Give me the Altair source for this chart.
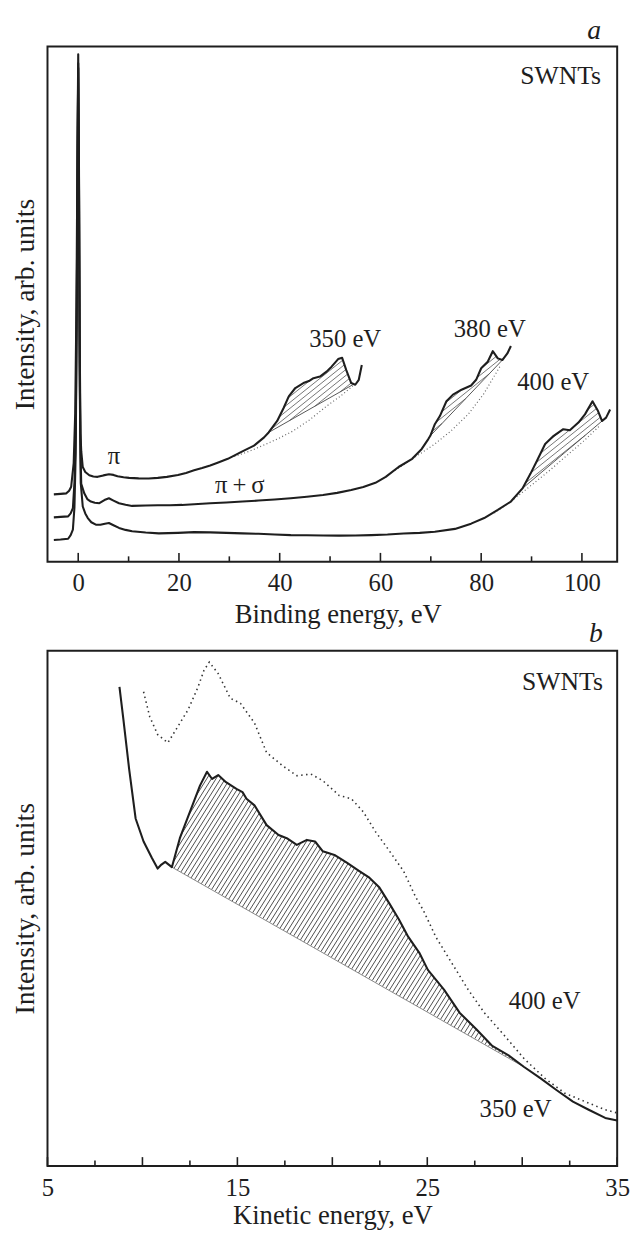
import altair as alt
import numpy as np
import pandas as pd

FONT = "Liberation Serif"
INK = "#1e1e1e"
W, H = 577, 522

# ---------------- panel a : binding energy, eV ----------------
A_XDOM = [-6.1, 107.0]
a_labels = [0, 20, 40, 60, 80, 100]
a_minor = [10, 30, 50, 70, 90]

# spectra (x = binding energy eV, y = intensity arb. units)
a_350 = [(-4.84, 68.3), (-3.5, 68.8), (-2.35, 69.3), (-1.8, 72), (-1.4, 76), (-0.9, 100), (-0.6, 150),
         (-0.35, 260), (-0.15, 420), (0.0, 514), (0.15, 400), (0.3, 220), (0.45, 130), (0.6, 112),
         (0.9, 96), (1.4, 91), (2.2, 87.6), (3.0, 86.3), (3.85, 86), (5.0, 87.5), (6.1, 88.6), (7.0, 88),
         (7.8, 86.6), (9.0, 85.6), (10.1, 85), (12.0, 84.5), (14.0, 84.3), (15.8, 85), (17.6, 86),
         (19.8, 87.8), (21.4, 90), (23.0, 92.6), (24.6, 95), (26.2, 97.6), (27.8, 100.6), (29.7, 104.3),
         (32.3, 111), (34.9, 117.6), (36.9, 126), (37.8, 131), (39.5, 142.6), (40.8, 156), (41.8, 167.6),
         (43.1, 176), (44.7, 181), (45.8, 183), (46.7, 186), (48.0, 187.6), (49.3, 192.6), (50.3, 197.6),
         (51.6, 205.3), (52.4, 206.6), (53.2, 194.3), (54.2, 181), (55.0, 179.3), (55.7, 184.3), (56.3, 199.3)]
a_380 = [(-4.84, 45), (-3.5, 45.5), (-2.0, 46), (-1.5, 49), (-1.06, 54.3), (-0.75, 80), (-0.5, 130),
         (-0.3, 250), (-0.12, 420), (0.0, 505), (0.15, 390), (0.3, 200), (0.45, 110), (0.6, 79),
         (1.2, 69.3), (1.8, 63.5), (2.5, 61), (3.3, 59.8), (4.2, 59.3), (5.2, 62.5), (6.1, 64.3), (7.0, 62),
         (8.1, 59.3), (9.4, 57.8), (10.7, 56.6), (13.4, 57), (15.8, 57.2), (18.2, 57.3), (20.6, 57.6),
         (23.0, 58.3), (26.2, 59.2), (29.4, 60), (32.6, 61), (35.8, 62), (39.0, 63), (42.2, 64.3),
         (45.4, 65.8), (48.6, 67.6), (51.4, 69.8), (54.2, 72.6), (56.6, 75.8), (59.0, 80), (61.05, 86),
         (63.6, 96), (66.3, 104.3), (68.2, 114.3), (69.5, 124.3), (69.9, 127.6), (70.8, 139.3),
         (71.8, 147.6), (73.1, 162.6), (74.4, 169.3), (76.1, 174.3), (78.0, 178.6), (79.0, 184.3),
         (80.0, 196), (81.3, 202.6), (82.3, 213.3), (83.3, 206), (84.2, 204.3), (85.2, 211), (85.9, 218.6)]
a_400 = [(-4.84, 22), (-3.5, 22.5), (-2.0, 23.3), (-1.5, 27), (-1.06, 32.6), (-0.75, 55), (-0.5, 110),
         (-0.3, 240), (-0.12, 410), (0.0, 500), (0.15, 380), (0.3, 180), (0.5, 80), (0.9, 56), (1.4, 49),
         (1.9, 44.3), (2.6, 40), (3.5, 37.6), (4.4, 37.5), (5.3, 38.6), (6.1, 39.3), (7.0, 37), (8.1, 34.3),
         (9.4, 32.3), (10.7, 31), (13.4, 29.6), (16.0, 28.8), (19.8, 29.3), (23.0, 30), (26.2, 29.8),
         (29.4, 29.3), (32.6, 28.8), (35.8, 28.3), (39.0, 27.6), (42.2, 27), (45.4, 26.8), (48.6, 26.6),
         (51.8, 26.5), (55.0, 26.6), (58.2, 27), (61.4, 27.6), (64.6, 28.6), (67.8, 29.3), (70.8, 30.5),
         (74.8, 33.3), (78.0, 38.6), (80.6, 44.3), (83.3, 52.6), (85.9, 61), (88.2, 74.3), (89.8, 89.3),
         (91.1, 102.6), (92.7, 119.3), (94.4, 127.6), (96.3, 134.3), (97.6, 133.3), (99.3, 141),
         (100.6, 149.3), (102.1, 162.6), (103.2, 152.6), (104.0, 142.6), (104.8, 146), (105.6, 154.3)]
# straight backgrounds under the plasmon features
a_350_base = [(37.8, 131), (54.5, 179.3)]
a_380_base = [(69.9, 127.6), (84.2, 204.3)]
a_400_base = [(88.2, 74.3), (104.0, 142.6)]
# dotted extrapolated backgrounds
a_350_dot = [(31, 106.6), (34, 112), (37, 118.5), (40, 125.5), (42.7, 132.6), (46, 144), (49.3, 157.6),
             (52, 167.5), (54.5, 178)]
a_380_dot = [(62.9, 92.6), (66, 103), (70.8, 119.3), (74, 132.5), (77.4, 149.3), (80.5, 170), (83.9, 199.3)]
a_400_dot = [(82.6, 49.3), (86.5, 63.5), (90.4, 79.3), (93.7, 93), (97.0, 107.6), (100.3, 122), (103.5, 137.6)]

# ---------------- panel b : kinetic energy, eV ----------------
B_XDOM = [5.0, 35.0]
b_labels = [5, 15, 25, 35]
b_major = [10, 20, 30]
b_minor = [7.5, 12.5, 17.5, 22.5, 27.5, 32.5]

b_350 = [(8.79, 485.3), (9.0, 452), (9.3, 402), (9.64, 352), (10.06, 328.7), (10.5, 312), (10.8, 301.3),
         (11.0, 305.3), (11.2, 308), (11.55, 302.7), (11.97, 332), (12.5, 358.7), (13.03, 385.3),
         (13.4, 399.3), (13.67, 392), (13.99, 396), (14.4, 388.7), (14.95, 382), (15.27, 378.7),
         (15.48, 372), (15.9, 365.3), (16.54, 345.3), (17.17, 335.3), (17.6, 332), (18.13, 325.3),
         (18.66, 330.3), (19.09, 328.7), (19.5, 318.7), (20.15, 314.7), (20.78, 307), (21.42, 298.7),
         (21.95, 292), (22.48, 282), (23.0, 266), (23.5, 250), (24.0, 232), (24.6, 215.3), (25.03, 198.7),
         (25.88, 178.7), (26.7, 155.3), (27.57, 138.7), (28.4, 122), (29.28, 112), (30.1, 100.3),
         (30.97, 88.7), (31.8, 77), (32.67, 65.3), (33.5, 57), (34.37, 48.7), (35.0, 46)]
b_400 = [(10.06, 480.3), (10.38, 455.3), (10.8, 437), (11.34, 428.7), (11.87, 445.3), (12.4, 462),
         (12.93, 485.3), (13.24, 502), (13.52, 510.3), (13.99, 498.7), (14.63, 473.7), (15.16, 468.7),
         (15.9, 448.7), (16.54, 418.7), (17.39, 405.3), (18.13, 395.3), (18.87, 397), (19.5, 390.3),
         (20.36, 375.3), (21.0, 372), (21.63, 358.7), (22.27, 338.7), (22.9, 322), (23.75, 298.7),
         (24.4, 272), (24.8, 258.7), (25.45, 232), (26.3, 205.3), (27.15, 178.7), (28.0, 155.3),
         (29.07, 132), (30.1, 108.7), (31.2, 88.7), (32.25, 73.7), (33.3, 65.3), (34.37, 57), (35.0, 53.7)]
b_350_base = [(11.55, 302.7), (30.1, 100.3)]


def frame(pairs, series):
    return pd.DataFrame({"x": [p[0] for p in pairs], "y": [p[1] for p in pairs],
                         "i": list(range(len(pairs))), "s": series})


def hatch(curve, base, xdom, slope, gap, step=0.2):
    """Diagonal hatch segments filling the area between a curve and its straight background."""
    kx = W / (xdom[1] - xdom[0])
    cx = (np.array([p[0] for p in curve]) - xdom[0]) * kx
    cy = np.array([p[1] for p in curve], float)
    (bx0, by0), (bx1, by1) = base
    X0, X1 = (bx0 - xdom[0]) * kx, (bx1 - xdom[0]) * kx
    xs = np.arange(X0, X1 + step / 2, step)
    U = np.interp(xs, cx, cy)
    L = by0 + (by1 - by0) * (xs - X0) / (X1 - X0)
    cmin, cmax = (L - slope * xs).min(), (U - slope * xs).max()
    rows = []
    for c in np.arange(cmin + gap * 0.5, cmax, gap):
        v = slope * xs + c
        inside = (v >= L - 0.01) & (v <= U)
        edges = np.flatnonzero(np.diff(np.r_[0, inside.astype(int), 0]))
        for s, e in zip(edges[::2], edges[1::2]):
            if e - s < 3:
                continue
            xa, xb = xs[s], xs[e - 1]
            rows.append({"x": xa / kx + xdom[0], "y": slope * xa + c,
                         "x2": xb / kx + xdom[0], "y2": slope * xb + c})
    return pd.DataFrame(rows)


y_scale = alt.Scale(domain=[0, H], nice=False, zero=False)
axis_y = alt.Axis(title="Intensity, arb. units", labels=False, ticks=False, domain=False, grid=False,
                  titleFont=FONT, titleFontSize=28, titleFontWeight="normal", titleColor=INK, titlePadding=8)


def make_axis_x(values, title, lab_pad, title_pad, title_x=None):
    kw = dict(values=values, title=title, ticks=False, tickSize=0, domain=False, grid=False,
              labelFont=FONT, labelFontSize=25, labelColor=INK, labelPadding=lab_pad,
              labelFlush=False, labelOverlap=False, titleFont=FONT, titleFontSize=27,
              titleFontWeight="normal", titleColor=INK, titlePadding=title_pad)
    if title_x is not None:
        kw["titleX"] = title_x
    return alt.Axis(**kw)


def panel(xdom, axis_x, solid, bases, dots, hatches, majors, minors, texts, dot_style, base_color, hatch_color):
    xs = alt.Scale(domain=xdom, nice=False, zero=False)
    X = lambda f: alt.X(f"{f}:Q", scale=xs, axis=axis_x)
    Y = lambda f: alt.Y(f"{f}:Q", scale=y_scale, axis=axis_y)
    layers = []
    for df in hatches:
        layers.append(alt.Chart(df).mark_rule(color=hatch_color, strokeWidth=0.9).encode(
            x=X("x"), y=Y("y"), x2="x2:Q", y2="y2:Q"))
    if bases is not None:
        layers.append(alt.Chart(bases).mark_line(color=base_color, strokeWidth=1).encode(
            x=X("x"), y=Y("y"), detail="s:N", order="i:Q"))
    layers.append(alt.Chart(dots).mark_line(**dot_style).encode(
        x=X("x"), y=Y("y"), detail="s:N", order="i:Q"))
    layers.append(alt.Chart(solid).mark_line(color=INK, strokeWidth=2.1, strokeJoin="round").encode(
        x=X("x"), y=Y("y"), detail="s:N", order="i:Q"))
    for vals, ln in ((majors, 9), (minors, 5.5)):
        layers.append(alt.Chart(pd.DataFrame({"t": vals})).mark_rule(color=INK, strokeWidth=1.6).encode(
            x=X("t"), y=alt.value(H), y2=alt.value(H - ln)))
    for df, style in texts:
        st = dict(baseline="alphabetic")
        st.update(style)
        layers.append(alt.Chart(df).mark_text(font=FONT, color=INK, **st).encode(
            x=X("x"), y=Y("y"), text="t:N"))
    return alt.layer(*layers).properties(width=W, height=H)


# ---- panel a data frames
a_solid = pd.concat([frame(a_350, "350"), frame(a_380, "380"), frame(a_400, "400")])
a_bases = pd.concat([frame(a_350_base, "350"), frame(a_380_base, "380"), frame(a_400_base, "400")])
a_dots = pd.concat([frame(a_350_dot, "350"), frame(a_380_dot, "380"), frame(a_400_dot, "400")])
a_hatch = [hatch(a_350, a_350_base, A_XDOM, 0.8, 6.0),
           hatch(a_380, a_380_base, A_XDOM, 0.8, 6.0),
           hatch(a_400, a_400_base, A_XDOM, 0.8, 6.0)]
a_texts = [
    (pd.DataFrame({"x": [53.0, 81.7, 94.3, 7.1, 32.1], "y": [217.6, 227.6, 174.3, 99.3, 69.3],
                   "t": ["350 eV", "380 eV", "400 eV", "π", "π\u2009+\u2009σ"]}),
     dict(fontSize=25, align="center")),
    (pd.DataFrame({"x": [103.8], "y": [484.3], "t": ["SWNTs"]}), dict(fontSize=26, align="right")),
    (pd.DataFrame({"x": [103.8], "y": [551.6], "t": ["a"]}),
     dict(fontSize=28, align="right", fontStyle="italic", baseline="top")),
]
panel_a = panel(A_XDOM, make_axis_x(a_labels, "Binding energy, eV", 9, 7, 294),
                a_solid, a_bases, a_dots, a_hatch, a_labels, a_minor, a_texts,
                dict(color="#666", strokeWidth=1.2, strokeDash=[1, 2.5]), "#555", "#666")

# ---- panel b data frames
b_solid = frame(b_350, "350")
b_bases = frame(b_350_base, "350")
b_dots = frame(b_400, "400")
b_hatch = [hatch(b_350, b_350_base, B_XDOM, 1.6, 7.5)]
b_texts = [
    (pd.DataFrame({"x": [31.18, 29.65], "y": [159, 50], "t": ["400 eV", "350 eV"]}),
     dict(fontSize=25, align="center")),
    (pd.DataFrame({"x": [34.25], "y": [482], "t": ["SWNTs"]}), dict(fontSize=26, align="right")),
    (pd.DataFrame({"x": [34.25], "y": [552.4], "t": ["b"]}),
     dict(fontSize=28, align="right", fontStyle="italic", baseline="top")),
]
panel_b = panel(B_XDOM, make_axis_x(b_labels, "Kinetic energy, eV", 10, 2),
                b_solid, b_bases, b_dots, b_hatch, b_labels + b_major, b_minor, b_texts,
                dict(color="#333", strokeWidth=1.6, strokeDash=[1.5, 3.5]), "#888", "#3a3a3a")

chart = alt.vconcat(panel_a, panel_b, spacing=90, bounds="flush").properties(
    padding={"left": 3, "top": 0, "right": 0, "bottom": 0}
).configure_view(stroke=INK, strokeWidth=2)

chart.save("out.html", embed_options={"renderer": "svg", "actions": False})
